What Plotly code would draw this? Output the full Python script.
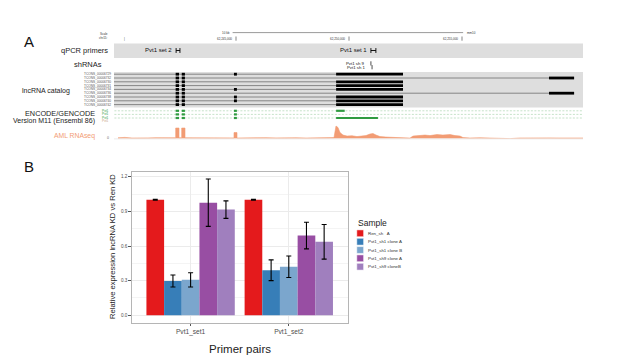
import plotly.graph_objects as go

# The page body has an 8px default margin; the figure is sized and mapped to fill the 617x355 window.
OFF = 8
W, H = 617 - OFF, 355 - OFF
def px(x): return (x - OFF) / W
def py(y): return 1 - (y - OFF) / H

FONT = "Liberation Sans"

# ---------------- Panel B data ----------------
primer_pairs = ["Pvt1_set1", "Pvt1_set2"]
sample_names = ["Ren_sh\u00a0\u00a0\u00a0A", "Pvt1_sh1 clone A", "Pvt1_sh1 clone B",
                "Pvt1_sh9 clone A", "Pvt1_sh9 cloneB"]
sample_colors = ["#E41A1C", "#377EB8", "#7BA6CD", "#984EA3", "#A07FBE"]
ren_sh_A = [1.0, 1.0]
ren_sh_A_err = [0.004, 0.004]
sh1_cloneA = [0.297, 0.390]
sh1_cloneA_err = [0.052, 0.090]
sh1_cloneB = [0.307, 0.420]
sh1_cloneB_err = [0.062, 0.093]
sh9_cloneA = [0.975, 0.690]
sh9_cloneA_err = [0.205, 0.115]
sh9_cloneB = [0.915, 0.636]
sh9_cloneB_err = [0.076, 0.150]
y_ticks = [0.0, 0.3, 0.6, 0.9, 1.2]
y_tick_labels = ["0.0", "0.3", "0.6", "0.9", "1.2"]

# ---------------- Panel A data (genomic positions in kb, chr15 mm10) ----------------
scale_ticks_kb = [62245, 62250, 62255]
scale_tick_labels = ["62,245,000", "62,250,000", "62,255,000"]
scale_bar_kb = [62244.85, 62255.05]

primer_names = ["Pvt1 set 2", "Pvt1 set 1"]
primer_start = [62242.35, 62250.97]
primer_end = [62242.52, 62251.19]

shrna_names = ["Pvt1 sh 9", "Pvt1 sh 1"]
shrna_pos = [62250.97, 62251.02]

tcons_ids = ["TCONS_00006729", "TCONS_00006732", "TCONS_00006730", "TCONS_00006731",
             "TCONS_00006734", "TCONS_00006736", "TCONS_00006738", "TCONS_00006740",
             "TCONS_00006742"]
tx_start = [62239.0] * 9
tx_end = [62252.39, 62259.96, 62252.39, 62252.39, 62252.39, 62259.96, 62252.39, 62252.39, 62252.39]
exon_start = [62242.33, 62242.60, 62244.91, 62249.43, 62258.85]
exon_end = [62242.48, 62242.74, 62245.04, 62252.39, 62259.96]
tx_exons = [[0, 1, 2, 3], [0, 1, 4], [0, 1, 3], [0, 1, 3], [0, 1, 2, 3],
            [0, 1, 4], [0, 1, 2, 3], [0, 1, 2, 3], [0, 1, 3]]

gencode_names = ["Pvt1", "Pvt1", "Pvt1"]
gencode_exon_start = [[62242.33, 62242.60, 62244.91, 62249.43],
                      [62242.33, 62242.60, 62244.91],
                      [62242.33, 62242.60, 62244.91, 62249.43]]
gencode_exon_end = [[62242.48, 62242.74, 62245.04, 62249.81],
                    [62242.48, 62242.74, 62245.04],
                    [62242.48, 62242.74, 62245.04, 62251.28]]

cov_pos_kb = [62239.779, 62240.088, 62240.398, 62240.752, 62241.106, 62241.460, 62241.814, 62242.168,
              62242.332, 62242.332, 62242.478, 62242.478, 62242.597, 62242.597, 62242.743, 62242.743,
              62243.142, 62243.496, 62243.850, 62244.204, 62244.558, 62244.912, 62244.912, 62245.044, 62245.044,
              62245.442, 62245.885, 62246.327, 62246.770, 62247.212, 62247.655, 62248.097, 62248.540, 62248.982, 62249.336,
              62249.425, 62249.513, 62249.602, 62249.735, 62249.912, 62250.133, 62250.354, 62250.575, 62250.752, 62250.929,
              62251.062, 62251.195, 62251.372, 62251.637, 62251.947, 62252.168, 62252.478, 62252.699, 62252.832, 62253.053,
              62253.363, 62253.584, 62253.894, 62254.159, 62254.469, 62254.690, 62254.912, 62255.044, 62255.354, 62255.796,
              62256.239, 62256.681, 62257.124, 62257.566, 62258.009, 62258.451, 62258.894, 62259.336, 62259.779, 62260.354]
cov_val = [8, 12, 6, 10, 7, 9, 6, 8,
           8, 105, 105, 8, 8, 105, 105, 8,
           7, 9, 6, 8, 7, 7, 60, 60, 6,
           8, 6, 9, 7, 10, 8, 6, 9, 8, 10,
           125, 110, 60, 35, 25, 28, 20, 23, 30, 45,
           50, 35, 20, 15, 12, 4, 2, 5, 25, 30,
           35, 30, 40, 35, 40, 30, 25, 10, 6, 8,
           5, 7, 0, 6, 8, 5, 7, 6, 8, 6]
assert len(cov_pos_kb) == len(cov_val)

# ---------------- layout constants (window pixels) ----------------
A_X0, A_X1 = 114, 583
A_Y_TOP, A_Y_BOT = 28, 145
TX_ROW0, TX_ROW_STEP = 74.2, 3.8
GC_ROWS = [110.8, 114.4, 118.0]
GREEN = "#2F9B40"
ORANGE = "#F29C74"
BAND = "#DEDEDE"

fig = go.Figure()

# ---- Panel B bars ----
series = [ren_sh_A, sh1_cloneA, sh1_cloneB, sh9_cloneA, sh9_cloneB]
errors = [ren_sh_A_err, sh1_cloneA_err, sh1_cloneB_err, sh9_cloneA_err, sh9_cloneB_err]
for name, vals, err, col in zip(sample_names, series, errors, sample_colors):
    fig.add_trace(go.Bar(
        x=primer_pairs, y=vals, name=name, marker=dict(color=col, line=dict(width=0)),
        error_y=dict(type="data", array=err, visible=True, color="black", thickness=1.1, width=2.5),
        xaxis="x", yaxis="y", showlegend=False))

# ---- Panel A: transcripts ----
ix, iy, ex, ey = [], [], [], []
for i in range(len(tcons_ids)):
    r = TX_ROW0 + i * TX_ROW_STEP
    ix += [tx_start[i], tx_end[i], None]
    iy += [r, r, None]
    for k in tx_exons[i]:
        ex += [exon_start[k], exon_end[k], None]
        ey += [r, r, None]
fig.add_trace(go.Scatter(x=ix, y=iy, mode="lines", line=dict(color="#6f6f6f", width=0.8),
                         xaxis="x2", yaxis="y2", showlegend=False, hoverinfo="skip"))
fig.add_trace(go.Scatter(x=ex, y=ey, mode="lines", line=dict(color="black", width=2.8),
                         xaxis="x2", yaxis="y2", showlegend=False, hoverinfo="skip"))

# ---- Panel A: GENCODE ----
gx, gy, gex, gey = [], [], [], []
for i, r in enumerate(GC_ROWS):
    gx += [62239.0, 62261.0, None]
    gy += [r, r, None]
    for s, e in zip(gencode_exon_start[i], gencode_exon_end[i]):
        gex += [s, e, None]
        gey += [r, r, None]
fig.add_trace(go.Scatter(x=gx, y=gy, mode="lines", line=dict(color="#7FBF86", width=0.45, dash="2px,1.5px"),
                         xaxis="x2", yaxis="y2", showlegend=False, hoverinfo="skip"))
fig.add_trace(go.Scatter(x=gex, y=gey, mode="lines", line=dict(color=GREEN, width=2.2),
                         xaxis="x2", yaxis="y2", showlegend=False, hoverinfo="skip"))

# ---- Panel A: primers and shRNAs ----
for s, e in zip(primer_start, primer_end):
    fig.add_trace(go.Scatter(x=[s, e], y=[50.5, 50.5], mode="lines+markers",
                             line=dict(color="black", width=0.9),
                             marker=dict(symbol="line-ns", size=3.5, line=dict(width=0.9, color="black")),
                             xaxis="x2", yaxis="y2", showlegend=False, hoverinfo="skip"))
fig.add_trace(go.Scatter(x=shrna_pos, y=[63.4, 67.2], mode="markers",
                         marker=dict(symbol="line-ns", size=3, line=dict(width=0.7, color="black")),
                         xaxis="x2", yaxis="y2", showlegend=False, hoverinfo="skip"))

# ---- Panel A: scale bar ----
fig.add_trace(go.Scatter(x=scale_bar_kb, y=[32.6, 32.6], mode="lines", line=dict(color="#555", width=0.6),
                         xaxis="x2", yaxis="y2", showlegend=False, hoverinfo="skip"))
fig.add_trace(go.Scatter(x=scale_ticks_kb, y=[38.6] * 3, mode="markers",
                         marker=dict(symbol="line-ns", size=3, line=dict(width=0.6, color="#333")),
                         xaxis="x2", yaxis="y2", showlegend=False, hoverinfo="skip"))

# ---- Panel A: coverage ----
fig.add_trace(go.Scatter(x=cov_pos_kb, y=cov_val, mode="lines", fill="tozeroy",
                         line=dict(color=ORANGE, width=0.6), fillcolor=ORANGE,
                         xaxis="x2", yaxis="y3", showlegend=False, hoverinfo="skip"))

# ---------------- shapes ----------------
shapes = []
for y0, y1 in [(43.5, 58.0), (72.0, 107.5), (124.0, 139.2)]:
    shapes.append(dict(type="rect", xref="x2 domain", yref="y2", x0=0, x1=1, y0=y0, y1=y1,
                       fillcolor=BAND, line=dict(width=0), layer="below"))
# legend keys
leg_y = [233.3, 241.7, 250.0, 258.3, 266.7]
for col, yc in zip(sample_colors, leg_y):
    shapes.append(dict(type="rect", xref="paper", yref="paper",
                       x0=px(356.8), x1=px(363.6), y0=py(yc + 3.4), y1=py(yc - 3.4),
                       fillcolor=col, line=dict(width=0.5, color="white")))

# ---------------- annotations ----------------
ann = []
def text(t, x, y, size, color="#222", xanchor="right", xref="paper", yref="paper", **kw):
    ann.append(dict(text=t, x=x, y=y, xref=xref, yref=yref, showarrow=False,
                    xanchor=xanchor, yanchor="middle", font=dict(family=FONT, size=size, color=color), **kw))

text("A", px(22), py(42), 15, "#111", xanchor="left")
text("B", px(22), py(166), 15, "#111", xanchor="left")
text("Scale", px(110), py(34.2), 3, "#333")
text("chr15:", px(110), py(38.2), 3, "#333")
text("|", px(125), py(38.6), 3, "#333", xanchor="center")
text("qPCR primers", px(110), py(51), 7.5)
text("shRNAs", px(103.5), py(64.2), 7.5)
text("lncRNA catalog", px(71.5), py(90.5), 7)
text("ENCODE/GENCODE", px(97.5), py(113.5), 7.3)
text("Version M11 (Ensembl 86)", px(97.5), py(120.8), 7)
text("AML RNAseq", px(97), py(136), 6.8, ORANGE)
text("0", px(111), py(138.2), 3.5, "#666")
for i, tid in enumerate(tcons_ids):
    text(tid, px(113), TX_ROW0 + i * TX_ROW_STEP, 3.2, "#555", yref="y2")
for r, nm in zip(GC_ROWS, gencode_names):
    text(nm, px(111.5), r, 3.2, GREEN, yref="y2")
text("Pvt1", px(111.5), py(121.4), 3.2, "#C9A27E")
# scale annotations
text("10 kb", scale_bar_kb[0], 32.6, 3, "#333", xref="x2", yref="y2", xshift=-1)
text("mm10", scale_bar_kb[1], 32.6, 3, "#333", xanchor="left", xref="x2", yref="y2", xshift=2)
for kb, lab in zip(scale_ticks_kb, scale_tick_labels):
    text(lab, kb, 38.6, 3, "#333", xref="x2", yref="y2", xshift=-2)
for s, nm in zip(primer_start, primer_names):
    text(nm, s, 50.0, 6, "#111", xref="x2", yref="y2", xshift=-2)
for p, nm, yy in zip(shrna_pos, shrna_names, [63.2, 67.2]):
    text(nm, p, yy, 4.3, "#111", xref="x2", yref="y2", xshift=-4)

# Panel B titles and legend
text("Relative expression lncRNA KD vs Ren KD", px(112.5), py(246.5), 7.6, "#222",
     xanchor="center", textangle=-90)
text("Primer pairs", px(239.7), py(348.5), 11.5, "#222", xanchor="center")
text("Sample", px(356), py(222.6), 8.5, "#222", xanchor="left")
for nm, yc in zip(sample_names, leg_y):
    text(nm, px(365.5), py(yc), 4.4, "#333", xanchor="left")

fig.update_layout(
    width=W, height=H, margin=dict(l=0, r=0, t=0, b=0),
    paper_bgcolor="white", plot_bgcolor="white",
    barmode="group", bargap=0.1, bargroupgap=0,
    showlegend=False,
    font=dict(family=FONT),
    shapes=shapes, annotations=ann,
    xaxis=dict(domain=[px(131.7), px(347.7)], anchor="y", range=[-0.6, 1.6],
               showgrid=True, gridcolor="#EBEBEB", gridwidth=0.8,
               showline=True, mirror=True, linecolor="#B5B5B5", linewidth=0.9,
               ticks="outside", ticklen=2.5, tickcolor="#555", tickwidth=0.6,
               tickfont=dict(family=FONT, size=6.6, color="#4D4D4D"), zeroline=False),
    yaxis=dict(domain=[py(322.7), py(172.3)], anchor="x", range=[-0.064, 1.238],
               tickvals=y_ticks, ticktext=y_tick_labels,
               showgrid=True, gridcolor="#EBEBEB", gridwidth=0.8,
               minor=dict(dtick=0.15, tick0=0, showgrid=True, gridcolor="#F4F4F4", gridwidth=0.5),
               showline=True, mirror=True, linecolor="#B5B5B5", linewidth=0.9,
               ticks="outside", ticklen=2.5, tickcolor="#555", tickwidth=0.6,
               tickfont=dict(family=FONT, size=4.6, color="#4D4D4D"), zeroline=False),
    xaxis2=dict(domain=[px(A_X0), px(A_X1)], anchor="y2", range=[62239.602, 62260.354],
                visible=False, showgrid=False, zeroline=False),
    yaxis2=dict(domain=[py(A_Y_BOT), py(A_Y_TOP)], anchor="x2", range=[A_Y_BOT, A_Y_TOP],
                visible=False, showgrid=False, zeroline=False),
    yaxis3=dict(domain=[py(138.6), py(124.0)], anchor="x2", range=[0, 145],
                visible=False, showgrid=False, zeroline=False),
)

fig.write_html("out.html")
